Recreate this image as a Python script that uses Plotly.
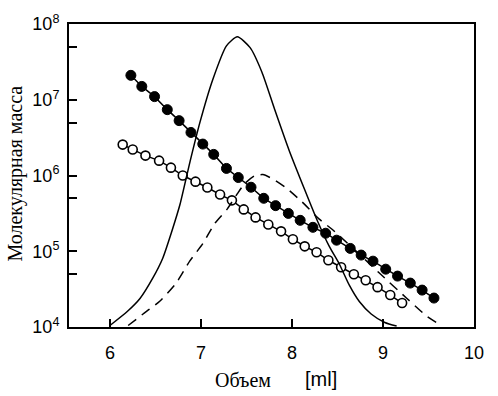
import plotly.graph_objects as go

# --- data ---
vol_filled = [6.23, 6.35, 6.49, 6.63, 6.76, 6.89, 7.02, 7.14, 7.28, 7.41, 7.55, 7.69, 7.82,
              7.96, 8.09, 8.23, 8.37, 8.49, 8.64, 8.76, 8.89, 9.03, 9.16, 9.30, 9.43, 9.56]
mass_filled = [2.1e7, 1.5e7, 1.1e7, 7.4e6, 5.3e6, 3.7e6, 2.6e6, 1.9e6, 1.24e6, 9.4e5, 7.0e5, 5.0e5, 4.0e5,
               3.16e5, 2.56e5, 2.07e5, 1.73e5, 1.40e5, 1.09e5, 8.9e4, 7.4e4, 5.8e4, 4.7e4, 3.8e4, 3.07e4, 2.41e4]

vol_open = [6.14, 6.25, 6.39, 6.54, 6.67, 6.80, 6.94, 7.07, 7.21, 7.34, 7.47, 7.60, 7.74, 7.88,
            8.01, 8.14, 8.27, 8.40, 8.54, 8.68, 8.81, 8.94, 9.08, 9.21]
mass_open = [2.56e6, 2.2e6, 1.83e6, 1.57e6, 1.27e6, 1.0e6, 8.3e5, 6.95e5, 5.6e5, 4.7e5, 3.57e5, 2.8e5,
             2.26e5, 1.83e5, 1.44e5, 1.16e5, 9.7e4, 7.6e4, 6.15e4, 4.98e4, 4.15e4, 3.36e4, 2.64e4, 2.07e4]

# elution curves (relative detector signal, fraction of axis height)
vol_solid = [6.00, 6.19, 6.33, 6.47, 6.58, 6.68, 6.77, 6.88, 6.99, 7.13, 7.28, 7.40, 7.54, 7.67,
             7.81, 7.97, 8.14, 8.28, 8.41, 8.52, 8.63, 8.74, 8.87, 9.02, 9.15]
sig_solid = [0.005, 0.051, 0.094, 0.161, 0.227, 0.316, 0.405, 0.546, 0.677, 0.817, 0.928, 0.958, 0.922,
             0.841, 0.718, 0.582, 0.453, 0.350, 0.266, 0.208, 0.138, 0.084, 0.043, 0.015, 0.003]

vol_dash = [6.20, 6.36, 6.55, 6.73, 6.88, 7.02, 7.15, 7.29, 7.40, 7.48, 7.59, 7.68, 7.78, 7.94,
            8.11, 8.30, 8.45, 8.77, 8.96, 9.26, 9.48, 9.65]
sig_dash = [0.005, 0.042, 0.086, 0.146, 0.219, 0.275, 0.341, 0.390, 0.440, 0.473, 0.499, 0.503, 0.490,
            0.458, 0.413, 0.356, 0.320, 0.232, 0.178, 0.095, 0.036, 0.003]

x_ticks = [6, 7, 8, 9, 10]
y_ticks = [1e4, 1e5, 1e6, 1e7, 1e8]
y_ticktext = ["10<sup>4</sup>", "10<sup>5</sup>", "10<sup>6</sup>", "10<sup>7</sup>", "10<sup>8</sup>"]
y_minor = [5e4, 5e5, 5e6, 5e7]

tick_font = dict(family="Liberation Sans Narrow, Liberation Sans, Arial", size=18, color="black")

W, H = 498, 396
L, R, T, B = 69, 24, 21, 69
PX0, PX1 = L, W - R
PY0, PY1 = T, H - B

def xp(x_abs):
    return (x_abs - PX0) / (PX1 - PX0)

def yp(y_abs):
    return (PY1 - y_abs) / (PY1 - PY0)

fig = go.Figure()

fig.add_trace(go.Scatter(x=vol_solid, y=sig_solid, yaxis="y2", mode="lines",
                         line=dict(color="black", width=1.5, shape="spline", smoothing=0.6),
                         showlegend=False, hoverinfo="skip"))
fig.add_trace(go.Scatter(x=vol_dash, y=sig_dash, yaxis="y2", mode="lines",
                         line=dict(color="black", width=1.5, dash="10px,7px", shape="spline", smoothing=0.6),
                         showlegend=False, hoverinfo="skip"))

fig.add_trace(go.Scatter(x=vol_filled, y=mass_filled, mode="lines+markers",
                         line=dict(color="black", width=1.5),
                         marker=dict(symbol="circle", size=10, color="black",
                                     line=dict(color="black", width=1)),
                         showlegend=False))
fig.add_trace(go.Scatter(x=vol_open, y=mass_open, mode="lines+markers",
                         line=dict(color="black", width=1.5),
                         marker=dict(symbol="circle", size=9, color="white",
                                     line=dict(color="black", width=1.6)),
                         showlegend=False))

fig.update_layout(
    width=W, height=H, autosize=False,
    margin=dict(l=L, r=R, t=T, b=B),
    paper_bgcolor="white", plot_bgcolor="white",
    showlegend=False,
    xaxis=dict(range=[5.55, 10.0], tickvals=x_ticks, ticktext=[str(v) for v in x_ticks],
               ticks="inside", ticklen=8, tickwidth=1.5, tickcolor="black",
               showline=True, linewidth=2, linecolor="black", mirror=True,
               showgrid=False, zeroline=False, tickfont=tick_font, ticklabelstandoff=8),
    yaxis=dict(type="log", range=[4, 8], tickvals=y_ticks, ticktext=y_ticktext,
               ticks="inside", ticklen=8, tickwidth=1.5, tickcolor="black",
               minor=dict(tickvals=y_minor, ticks="inside", ticklen=8, tickwidth=1.5,
                          tickcolor="black", showgrid=False),
               showline=True, linewidth=2, linecolor="black", mirror=True,
               showgrid=False, zeroline=False, tickfont=tick_font, ticklabelstandoff=4),
    yaxis2=dict(overlaying="y", range=[0, 1], visible=False, showgrid=False, zeroline=False),
)

fig.add_annotation(text="Объем", x=xp(243), y=yp(381), xref="paper", yref="paper",
                   xanchor="center", yanchor="middle", showarrow=False,
                   font=dict(family="Liberation Serif, Times New Roman", size=20, color="black"))
fig.add_annotation(text="[ml]", x=xp(321), y=yp(380), xref="paper", yref="paper",
                   xanchor="center", yanchor="middle", showarrow=False,
                   font=dict(family="Liberation Sans Narrow, Liberation Sans, Arial", size=20, color="black"))
fig.add_annotation(text="Молекулярная масса", x=xp(16), y=yp(172), xref="paper", yref="paper",
                   xanchor="center", yanchor="middle", textangle=-90, showarrow=False,
                   font=dict(family="Liberation Serif, Times New Roman", size=20, color="black"))

fig.write_html(
    "out.html",
    config={"displayModeBar": False},
    post_script="document.body.style.margin='0px';document.body.style.overflow='hidden';",
)
